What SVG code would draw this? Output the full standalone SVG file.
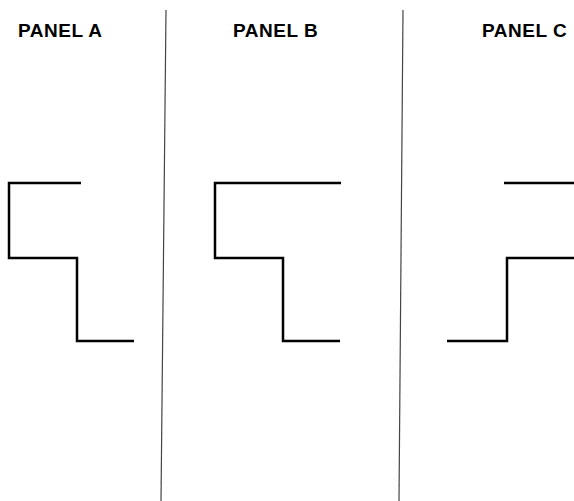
<svg xmlns="http://www.w3.org/2000/svg" width="574" height="501" viewBox="0 0 574 501">
<style>
.t{font-family:"Liberation Sans",Arial,sans-serif;font-weight:bold;font-size:19px;letter-spacing:0.5px;fill:#000}
.s{fill:none;stroke:#000;stroke-width:2.5;stroke-linejoin:miter;stroke-linecap:butt}
.d{stroke:#444;stroke-width:1.2}
</style>
<rect width="574" height="501" fill="#fff"/>
<g id="dividers">
<line class="d" x1="166" y1="10" x2="161" y2="501"/>
<line class="d" x1="403" y1="10" x2="399" y2="501"/>
</g>
<g id="panelA">
<text class="t" x="18" y="37">PANEL A</text>
<polyline class="s" points="81,183 9,183 9,258 77,258 77,341 134,341"/>
</g>
<g id="panelB">
<text class="t" x="233" y="37">PANEL B</text>
<polyline class="s" points="341,183 215,183 215,258 283,258 283,341 340,341"/>
</g>
<g id="panelC">
<text class="t" x="482" y="37">PANEL C</text>
<line class="s" x1="504" y1="183" x2="574" y2="183"/>
<polyline class="s" points="574,258 507,258 507,341 447,341"/>
</g>
</svg>
